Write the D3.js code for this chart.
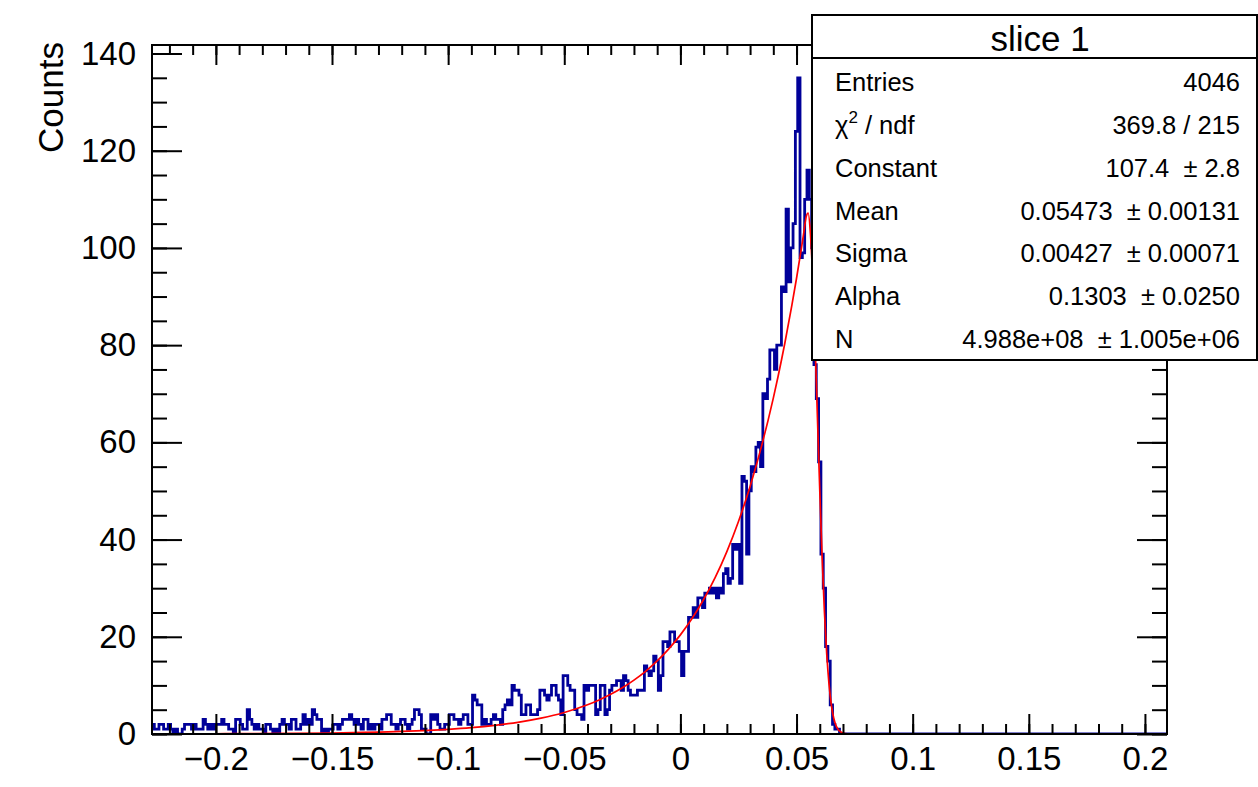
<!DOCTYPE html>
<html>
<head>
<meta charset="utf-8">
<script src="https://cdn.jsdelivr.net/npm/d3@7"></script>
<style>
  body { margin: 0; background: #fff; }
  svg { display: block; font-family: "Liberation Sans", Arial, Helvetica, sans-serif; }
</style>
</head>
<body>
<div id="chart"></div>
<script>
// histogram "slice 1": 0.001 wide bins starting at -0.2275
const binStart = -0.2275;
const binWidth = 0.001;
const counts = [
  2,1,1,2,2,1,1,2,1,0,1,0,0,1,2,2,2,1,2,1,
  1,1,3,2,1,2,1,2,2,2,3,2,2,1,1,0,3,3,2,1,
  1,5,3,2,1,2,1,1,0,2,2,1,0,1,0,2,3,2,2,1,
  3,3,1,1,2,4,2,3,2,5,4,3,3,0,1,0,1,1,2,2,
  1,2,3,3,3,4,3,2,3,2,1,3,3,1,2,1,2,2,1,3,
  3,4,4,2,2,1,2,3,3,2,1,2,3,5,5,4,1,1,0,0,
  4,3,4,2,1,1,2,2,4,4,3,3,2,3,4,4,2,2,8,7,
  6,6,2,3,2,2,3,4,3,3,2,5,6,7,6,10,9,9,8,4,
  4,6,6,4,4,4,5,9,9,8,7,8,10,10,8,7,4,12,12,10,
  9,9,5,4,4,3,10,9,10,10,10,4,5,10,10,4,5,9,10,10,
  11,11,9,12,11,9,8,8,8,9,9,9,14,13,12,13,16,15,9,12,
  19,19,18,21,21,19,19,17,12,17,17,24,24,26,24,28,28,26,29,29,
  30,29,30,28,30,29,33,34,31,32,39,38,39,31,53,52,37,50,55,54,
  59,60,55,70,69,73,79,79,75,80,80,92,91,108,93,100,105,124,135,98,
  99,110,116,110,100,76,69,56,37,30,18,15,6,2,1,1,0,0,0,0,
  0,0,0,0,0,0,0,0,0,0,0,0,0,0,0,0,0,0,0,0,
  0,0,0,0,0,0,0,0,0,0,0,0,0,0,0,0,0,0,0,0,
  0,0,0,0,0,0,0,0,0,0,0,0,0,0,0,0,0,0,0,0,
  0,0,0,0,0,0,0,0,0,0,0,0,0,0,0,0,0,0,0,0,
  0,0,0,0,0,0,0,0,0,0,0,0,0,0,0,0,0,0,0,0,
  0,0,0,0,0,0,0,0,0,0,0,0,0,0,0,0,0,0,0,0,
  0,0,0,0,0,0,0,0,0,0,0,0,0,0,0,0,0
];

// fitted curve (red)
const fitX = [-0.2275, -0.2, -0.15, -0.12, -0.1, -0.09, -0.08, -0.07, -0.06, -0.05,
  -0.04, -0.035, -0.03, -0.025, -0.02, -0.015, -0.01, -0.005, 0, 0.005,
  0.01, 0.015, 0.02, 0.025, 0.03, 0.035, 0.04, 0.042, 0.045, 0.048,
  0.05, 0.052, 0.053, 0.0542, 0.055, 0.056, 0.057, 0.058, 0.059, 0.06,
  0.061, 0.062, 0.063, 0.064, 0.065, 0.066, 0.067, 0.068, 0.07, 0.072];
const fitY = [0.02, 0.05, 0.21, 0.52, 0.96, 1.31, 1.78, 2.41, 3.27, 4.43,
  6.01, 7.01, 8.16, 9.50, 11.08, 12.90, 15.03, 17.51, 20.39, 23.75,
  27.67, 32.22, 37.53, 43.72, 50.93, 59.33, 69.11, 73.45, 80.49, 88.22,
  93.76, 99.67, 102.75, 106.49, 107.19, 102.75, 93.25, 80.11, 65.14, 50.14,
  36.54, 25.21, 16.46, 10.17, 5.95, 3.30, 1.73, 0.86, 0.18, 0.03];

const xMajor = [-0.2, -0.15, -0.1, -0.05, 0, 0.05, 0.1, 0.15, 0.2];
const xMinor = d3.range(-22, 21).map(d => d / 100);
const yMajor = [0, 20, 40, 60, 80, 100, 120, 140];
const yMinor = d3.range(0, 141, 5);

const statTitle = "slice 1";
const statNames = ["Entries", "chi2", "Constant", "Mean", "Sigma", "Alpha", "N"];
const statValues = ["4046", "369.8 / 215", "107.4  \u00b1 2.8", "0.05473  \u00b1 0.00131",
  "0.00427  \u00b1 0.00071", "0.1303  \u00b1 0.0250", "4.988e+08  \u00b1 1.005e+06"];

const width = 1258, height = 787;
const frame = {left: 152, top: 45, right: 1167, bottom: 734};

const svg = d3.select("#chart").append("svg")
    .attr("width", width)
    .attr("height", height);

const x = d3.scaleLinear()
    .domain([binStart, binStart + binWidth * counts.length])
    .range([frame.left, frame.right]);
const y = d3.scaleLinear()
    .domain([0, 141.75])
    .range([frame.bottom, frame.top]);

svg.append("defs").append("clipPath").attr("id", "clip")
  .append("rect")
    .attr("x", frame.left).attr("y", frame.top)
    .attr("width", frame.right - frame.left)
    .attr("height", frame.bottom - frame.top);

// histogram outline
const pts = counts.map((c, i) => [binStart + i * binWidth, c]);
pts.push([binStart + counts.length * binWidth, counts[counts.length - 1]]);

svg.append("path")
    .attr("clip-path", "url(#clip)")
    .attr("d", d3.line().x(d => x(d[0])).y(d => y(d[1])).curve(d3.curveStepAfter)(pts))
    .attr("fill", "none")
    .attr("stroke", "#000099")
    .attr("stroke-width", 2.8);

// fit
svg.append("path")
    .attr("clip-path", "url(#clip)")
    .attr("d", d3.line().x((d, i) => x(fitX[i])).y(d => y(d)).curve(d3.curveMonotoneX)(fitY))
    .attr("fill", "none")
    .attr("stroke", "#ff0000")
    .attr("stroke-width", 1.7);

// axes, ticks on all four sides
function styleAxis(g) {
  g.select(".domain").remove();
  g.selectAll(".tick line").attr("stroke", "#000").attr("stroke-width", 2);
  g.selectAll(".tick text").attr("fill", "#000").style("font-size", "33px");
}

svg.append("g")
    .attr("transform", `translate(0,${frame.bottom})`)
    .call(d3.axisBottom(x).tickValues(xMinor).tickSize(-10).tickFormat(""))
    .call(styleAxis);
svg.append("g")
    .attr("transform", `translate(0,${frame.bottom})`)
    .call(d3.axisBottom(x).tickValues(xMajor).tickSize(-20).tickPadding(13)
      .tickFormat(d => d === 0 ? "0" : d3.format("")(+d.toFixed(2))))
    .call(styleAxis);
svg.append("g")
    .attr("transform", `translate(0,${frame.top})`)
    .call(d3.axisTop(x).tickValues(xMinor).tickSize(-10).tickFormat(""))
    .call(styleAxis);
svg.append("g")
    .attr("transform", `translate(0,${frame.top})`)
    .call(d3.axisTop(x).tickValues(xMajor).tickSize(-20).tickFormat(""))
    .call(styleAxis);

svg.append("g")
    .attr("transform", `translate(${frame.left},0)`)
    .call(d3.axisLeft(y).tickValues(yMinor).tickSize(-15).tickFormat(""))
    .call(styleAxis);
svg.append("g")
    .attr("transform", `translate(${frame.left},0)`)
    .call(d3.axisLeft(y).tickValues(yMajor).tickSize(-30).tickPadding(16))
    .call(styleAxis);
svg.append("g")
    .attr("transform", `translate(${frame.right},0)`)
    .call(d3.axisRight(y).tickValues(yMinor).tickSize(-15).tickFormat(""))
    .call(styleAxis);
svg.append("g")
    .attr("transform", `translate(${frame.right},0)`)
    .call(d3.axisRight(y).tickValues(yMajor).tickSize(-30).tickFormat(""))
    .call(styleAxis);

svg.append("rect")
    .attr("x", frame.left).attr("y", frame.top)
    .attr("width", frame.right - frame.left)
    .attr("height", frame.bottom - frame.top)
    .attr("fill", "none")
    .attr("stroke", "#000")
    .attr("stroke-width", 2);

svg.append("text")
    .attr("transform", "translate(63,42) rotate(-90)")
    .attr("text-anchor", "end")
    .style("font-size", "35px")
    .text("Counts");

// stats box
const box = {x: 812, y: 15, w: 445, h: 345, head: 43};
const sb = svg.append("g");
sb.append("rect")
    .attr("x", box.x).attr("y", box.y)
    .attr("width", box.w).attr("height", box.h)
    .attr("fill", "#fff")
    .attr("stroke", "#000")
    .attr("stroke-width", 2);
sb.append("line")
    .attr("x1", box.x).attr("x2", box.x + box.w)
    .attr("y1", box.y + box.head).attr("y2", box.y + box.head)
    .attr("stroke", "#000").attr("stroke-width", 2);
sb.append("text")
    .attr("x", 1040).attr("y", 51)
    .attr("text-anchor", "middle")
    .style("font-size", "35px")
    .text(statTitle);

const rowY = d3.scalePoint().domain(statNames).range([91, 348]);
statNames.forEach((name, i) => {
  const t = sb.append("text")
      .attr("x", 835).attr("y", rowY(name))
      .style("font-size", "25.5px");
  if (name === "chi2") {
    t.append("tspan").text("\u03c7");
    t.append("tspan").attr("dy", -11).style("font-size", "17px").text("2");
    t.append("tspan").attr("dy", 11).text(" / ndf");
  } else {
    t.text(name);
  }
  sb.append("text")
      .attr("x", 1240).attr("y", rowY(name))
      .attr("text-anchor", "end")
      .style("font-size", "25.5px")
      .style("white-space", "pre")
      .text(statValues[i]);
});
</script>
</body>
</html>
